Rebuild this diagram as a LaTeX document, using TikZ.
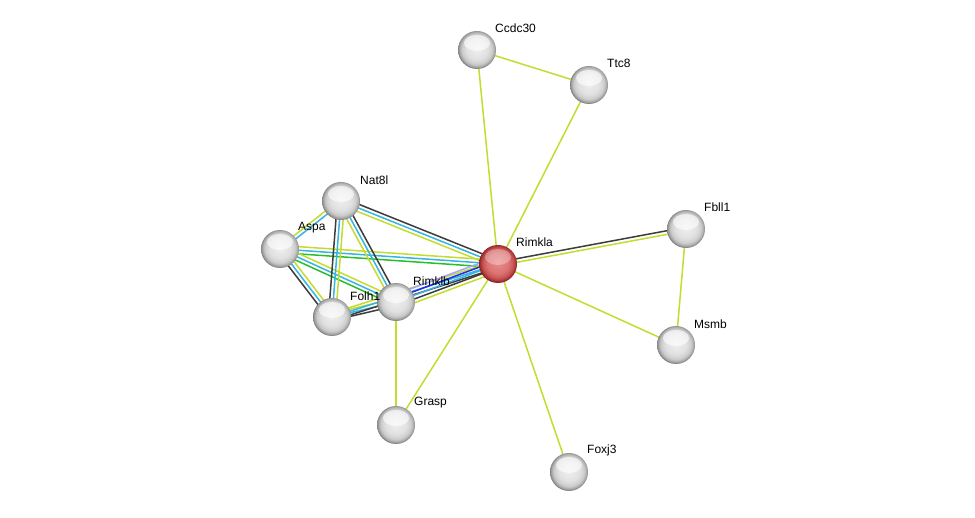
\documentclass[tikz,border=0pt]{standalone}
\usepackage{fontspec}
\setmainfont{Liberation Sans}
\usetikzlibrary{calc}
\pgfdeclarelayer{background}
\pgfsetlayers{background,main}
\definecolor{tm}{RGB}{195,220,45}
\definecolor{db}{RGB}{55,180,225}
\definecolor{ce}{RGB}{60,60,60}
\definecolor{nb}{RGB}{40,190,40}
\definecolor{co}{RGB}{40,40,230}
\definecolor{hm}{RGB}{165,165,250}
\pgfdeclareradialshading{grayball}{\pgfqpoint{0bp}{2bp}}{%
  color(0bp)=(white!94!black); color(14bp)=(white!88!black); color(20bp)=(white!80!black);
  color(23.5bp)=(white!64!black); color(26bp)=(white!45!black); color(50bp)=(white!45!black)}
\pgfdeclareradialshading{redball}{\pgfqpoint{0bp}{2bp}}{%
  color(0bp)=(rgb,255:red,232;green,140;blue,140); color(14bp)=(rgb,255:red,220;green,115;blue,115);
  color(20bp)=(rgb,255:red,200;green,85;blue,85);
  color(23.5bp)=(rgb,255:red,165;green,50;blue,50); color(26bp)=(rgb,255:red,120;green,25;blue,25); color(50bp)=(rgb,255:red,120;green,25;blue,25)}
\tikzset{
  prot/.style={circle, minimum size=38pt, inner sep=0pt, shading=grayball,
    path picture={\fill[white, opacity=0.6] ($(path picture bounding box.center)+(0pt,7pt)$) ellipse (13pt and 8pt);}},
  protred/.style={prot, shading=redball,
    path picture={\fill[white, opacity=0.3] ($(path picture bounding box.center)+(0pt,7pt)$) ellipse (13pt and 8pt);}},
  lab/.style={anchor=south west, font=\fontsize{12}{14}\selectfont, inner sep=0pt},
}
\newcommand\sedge[4]{%
  \foreach \c [count=\i] in {#4} {%
    \pgfmathsetmacro\off{(\i-(#3+1)/2)*3.6}%
    \draw[\c, line width=1.5pt] ($(#1)!\off pt!90:(#2)$) -- ($(#2)!\off pt!-90:(#1)$);
  }%
}
\begin{document}
\begin{tikzpicture}[x=1pt,y=-1pt]
\useasboundingbox (0,0) rectangle (975,518);
\node[prot] (ccdc30) at (477,50) {};
\node[prot] (ttc8) at (589,85) {};
\node[prot] (nat8l) at (341,201) {};
\node[prot] (fbll1) at (686,229) {};
\node[prot] (aspa) at (280,249) {};
\node[protred] (rimkla) at (498,264) {};
\node[prot] (folh1) at (332,317) {};
\node[prot] (rimklb) at (396,302) {};
\node[prot] (msmb) at (676,345) {};
\node[prot] (grasp) at (396,425) {};
\node[prot] (foxj3) at (569,472) {};

\node[lab] at (495,33) {Ccdc30};
\node[lab] at (607,68) {Ttc8};
\node[lab] at (360,185) {Nat8l};
\node[lab] at (704,212) {Fbll1};
\node[lab] at (298,233) {Aspa};
\node[lab] at (516,247) {Rimkla};
\node[lab] at (413,286) {Rimklb};
\node[lab] at (350,301) {Folh1};
\node[lab] at (694,329) {Msmb};
\node[lab] at (414,408) {Grasp};
\node[lab] at (587,456) {Foxj3};

\begin{pgfonlayer}{background}
\sedge{ccdc30}{ttc8}{1}{tm}
\sedge{ccdc30}{rimkla}{1}{tm}
\sedge{ttc8}{rimkla}{1}{tm}
\sedge{rimkla}{fbll1}{2}{tm,ce}
\sedge{fbll1}{msmb}{1}{tm}
\sedge{rimkla}{msmb}{1}{tm}
\sedge{rimkla}{foxj3}{1}{tm}
\sedge{rimkla}{grasp}{1}{tm}
\sedge{rimklb}{grasp}{1}{tm}
\sedge{nat8l}{rimkla}{3}{tm,db,ce}
\sedge{aspa}{rimkla}{3}{nb,db,tm}
\sedge{aspa}{nat8l}{2}{db,tm}
\sedge{aspa}{folh1}{3}{ce,db,tm}
\sedge{aspa}{rimklb}{3}{nb,db,tm}
\sedge{nat8l}{folh1}{3}{ce,db,tm}
\sedge{nat8l}{rimklb}{3}{tm,db,ce}
\sedge{folh1}{rimklb}{3}{ce,db,tm}
\sedge{folh1}{rimkla}{3}{ce,db,tm}
\sedge{rimklb}{rimkla}{5}{tm,ce,db,co,hm}
\end{pgfonlayer}
\end{tikzpicture}
\end{document}
